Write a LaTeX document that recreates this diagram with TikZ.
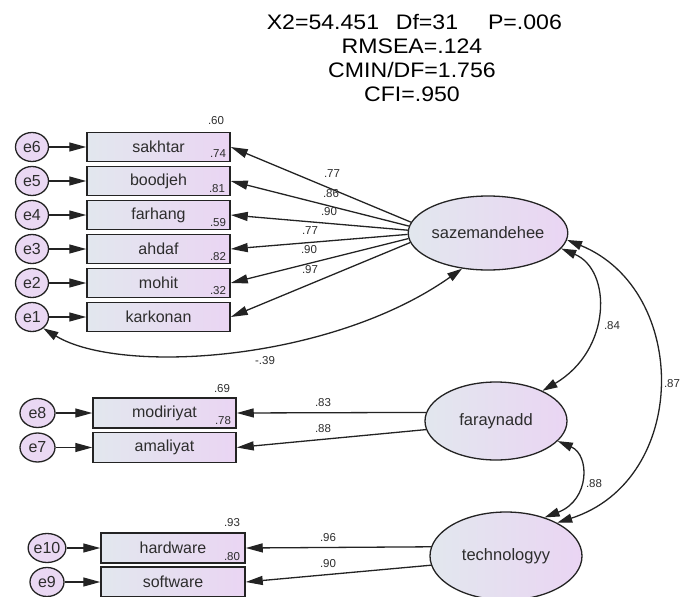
\documentclass[tikz,border=0pt]{standalone}
\usepackage{fontspec}
\setmainfont{Liberation Sans}
\newfontfamily\titlefont[FakeStretch=1.1]{Liberation Sans}
\usetikzlibrary{shapes.geometric,arrows.meta}
\definecolor{txt}{RGB}{45,45,45}
\definecolor{bl}{RGB}{226,231,238}
\definecolor{pu}{RGB}{234,213,243}
\definecolor{ecol}{RGB}{234,216,243}
\definecolor{edge}{RGB}{35,35,35}
\begin{document}
\begin{tikzpicture}[x=1pt,y=-1pt,
  obs/.style={draw=edge, line width=1.5pt, left color=bl, right color=pu,
    minimum width=143pt, minimum height=29pt, inner sep=0pt,
    font=\fontsize{16}{16}\selectfont, text=txt},
  lat/.style={ellipse, draw=edge, line width=1.3pt, left color=bl, right color=pu,
    inner sep=0pt, font=\fontsize{16.5}{17}\selectfont, text=txt},
  err/.style={ellipse, draw=edge, line width=1.3pt, fill=ecol,
    minimum width=33pt, minimum height=29pt, inner sep=0pt,
    font=\fontsize{16}{16}\selectfont, text=txt},
  arr/.style={-{Triangle[length=17pt,width=9pt]}, line width=1.3pt, draw=edge},
  cov/.style={{Triangle[length=15pt,width=9pt]}-{Triangle[length=15pt,width=9pt]},
    line width=1.3pt, draw=edge},
  lbl/.style={font=\fontsize{11.5}{12}\selectfont, text=txt, inner sep=0pt},
  ttl/.style={font=\titlefont\fontsize{21}{22}\selectfont, text=black, inner sep=0pt},
]
\useasboundingbox (0,0) rectangle (680,597);
\clip (0,0) rectangle (680,597);

% title
\node[ttl] (t1) at (323,22) {X2=54.451};
\node[ttl] (t2) at (427,22) {Df=31};
\node[ttl] (t3) at (525,22) {P=.006};
\node[ttl] (t4) at (412,46) {RMSEA=.124};
\node[ttl] (t5) at (412,70) {CMIN/DF=1.756};
\node[ttl] (t6) at (412,94) {CFI=.950};

% latent variables
\node[lat, minimum width=154pt, minimum height=74pt] (saz) at (488,233) {sazemandehee};
\node[lat, minimum width=142pt, minimum height=78pt] (frn) at (496,421) {faraynadd};
\node[lat, minimum width=152pt, minimum height=88pt] (tech) at (506,556) {technologyy};

% observed variables, group 1
\node[obs] (sakhtar) at (158.5,147) {sakhtar};
\node[obs] (boodjeh) at (158.5,181) {boodjeh};
\node[obs] (farhang) at (158.5,215) {farhang};
\node[obs] (ahdaf) at (158.5,249) {ahdaf};
\node[obs] (mohit) at (158.5,283) {mohit};
\node[obs] (karkonan) at (158.5,317) {karkonan};

\node[err] (e6) at (32,147) {e6};
\node[err] (e5) at (32,181) {e5};
\node[err] (e4) at (32,215) {e4};
\node[err] (e3) at (32,249) {e3};
\node[err] (e2) at (32,283) {e2};
\node[err] (e1) at (32,317) {e1};

% group 2
\node[obs, minimum height=30pt] (modiriyat) at (164.5,413) {modiriyat};
\node[obs, minimum height=30pt] (amaliyat) at (164.5,447.5) {amaliyat};
\node[err, minimum width=35pt] (e8) at (37.5,413) {e8};
\node[err, minimum width=35pt] (e7) at (37.5,447.5) {e7};

% group 3
\node[obs, minimum width=144pt, minimum height=30pt] (hardware) at (173,548) {hardware};
\node[obs, minimum width=144pt, minimum height=30pt] (software) at (173,582) {software};
\node[err, minimum width=34pt] (e10) at (47,548) {e10};
\node[err, minimum width=34pt] (e9) at (47,582) {e9};

% error arrows
\foreach \e/\o in {e6/sakhtar,e5/boodjeh,e4/farhang,e3/ahdaf,e2/mohit,e1/karkonan,
                   e8/modiriyat,e7/amaliyat,e10/hardware,e9/software}
  \draw[arr] (\e) -- (\o);

% loadings
\draw[arr] (saz.172) -- (sakhtar.east);
\draw[arr] (saz.175) -- (boodjeh.east);
\draw[arr] (saz.178) -- (farhang.east);
\draw[arr] (saz.181) -- (ahdaf.east);
\draw[arr] (saz.184) -- (mohit.east);
\draw[arr] (saz.187) -- (karkonan.east);
\draw[arr] (frn.173) -- (modiriyat.east);
\draw[arr] (frn.187) -- (amaliyat.east);
\draw[arr] (tech.173) -- (hardware.east);
\draw[arr] (tech.187) -- (software.east);

% covariances
\draw[cov] (e1.-45) .. controls (120,375) and (330,362) .. (saz.234);
\draw[cov] (saz.-12) .. controls (612,270) and (612,350) .. (frn.33);
\draw[cov] (saz.-5) .. controls (690,290) and (690,480) .. (tech.33);
\draw[cov] (frn.-18) .. controls (590,455) and (590,500) .. (tech.45);

% loading labels
\node[lbl] (l1) at (332,174) {.77};
\node[lbl] (l2) at (331,194) {.86};
\node[lbl] (l3) at (329,212) {.90};
\node[lbl] (l4) at (310,231) {.77};
\node[lbl] (l5) at (309,250) {.90};
\node[lbl] (l6) at (310,270) {.97};
\node[lbl] (l7) at (323,403) {.83};
\node[lbl] (l8) at (323,429) {.88};
\node[lbl] (l9) at (328,538) {.96};
\node[lbl] (l10) at (328,564) {.90};

% covariance labels
\node[lbl] (c1) at (265,361) {-.39};
\node[lbl] (c2) at (612,326) {.84};
\node[lbl] (c3) at (672,384) {.87};
\node[lbl] (c4) at (594,484) {.88};

% squared multiple correlations
\node[lbl] (r1) at (216,121) {.60};
\node[lbl] (r2) at (218,154) {.74};
\node[lbl] (r3) at (217,189) {.81};
\node[lbl] (r4) at (218,223) {.59};
\node[lbl] (r5) at (218,257) {.82};
\node[lbl] (r6) at (218,291) {.32};
\node[lbl] (r7) at (222,389) {.69};
\node[lbl] (r8) at (223,421) {.78};
\node[lbl] (r9) at (232,523) {.93};
\node[lbl] (r10) at (232,557) {.80};
\end{tikzpicture}
\end{document}
